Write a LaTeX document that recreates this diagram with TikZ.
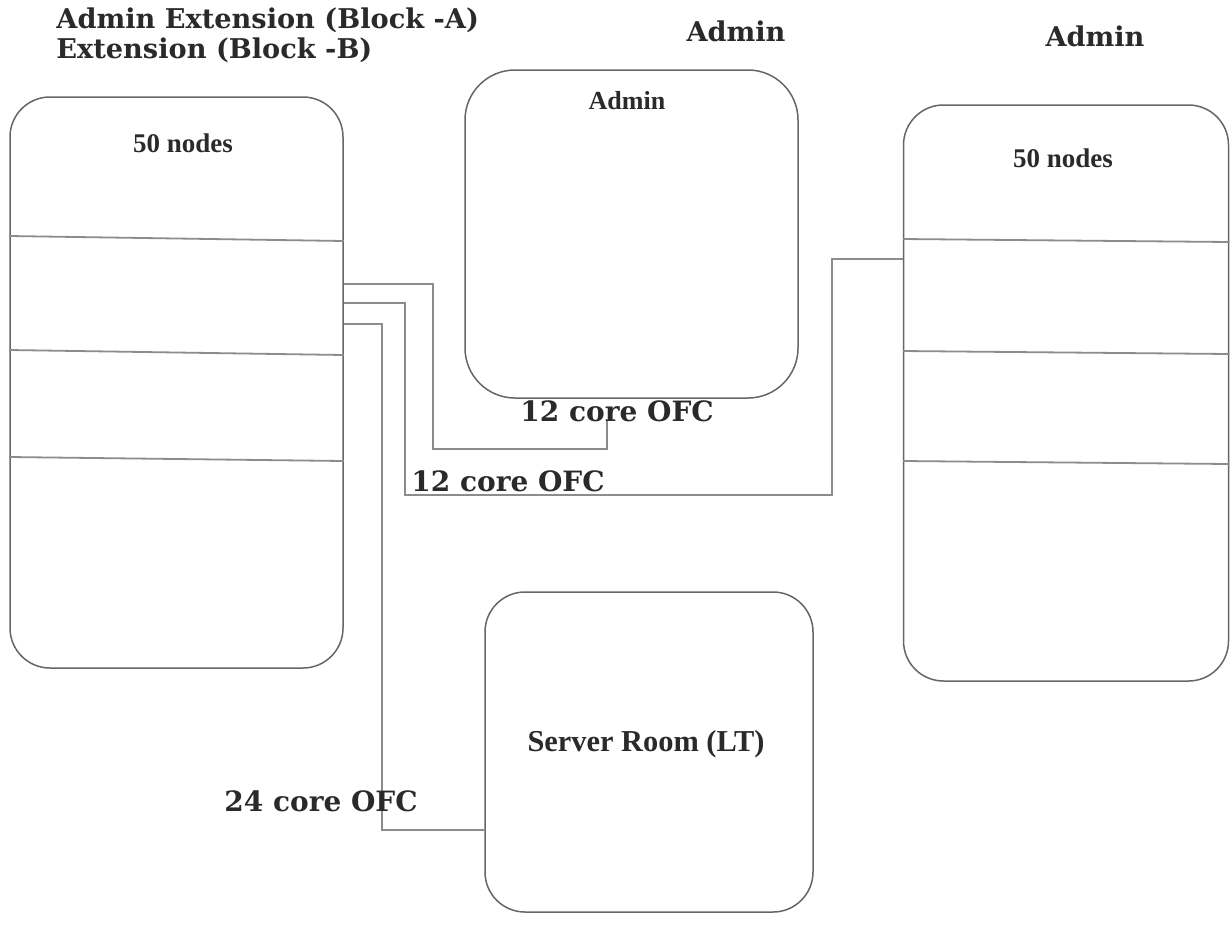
\documentclass[tikz,border=0pt]{standalone}
\usepackage{fontspec}
\setmainfont{Liberation Serif}
\newfontfamily\slab{DejaVu Serif}
\definecolor{boxgray}{HTML}{666666}
\definecolor{wiregray}{HTML}{8C8C8C}
\definecolor{textc}{HTML}{2A2A2A}
\begin{document}
\begin{tikzpicture}[x=0.5pt,y=-0.5pt,
  box/.style={draw=boxgray, line width=0.75pt, rounded corners=20pt, inner sep=0pt},
  divider/.style={draw=wiregray, line width=0.9pt},
  wire/.style={draw=wiregray, line width=1.2pt},
  times/.style={font=\bfseries\fontsize{13.5}{16}\selectfont, text=textc, inner sep=0pt},
  slabl/.style={font=\slab\bfseries\fontsize{13.6}{15}\selectfont, text=textc, inner sep=0pt},
  ofc/.style={font=\slab\bfseries\fontsize{14}{15}\selectfont, text=textc, inner sep=0pt}]
\useasboundingbox (0,0) rectangle (1230,943);
\fill[white] (0,0) rectangle (1230,943);
% boxes
\node[box, minimum width=166.5pt, minimum height=285.5pt] (L) at (176.5,382.5) {};
\node[box, rounded corners=25pt, minimum width=166.5pt, minimum height=164pt] (A) at (631.5,234) {};
\node[box, minimum width=162.5pt, minimum height=288pt] (R) at (1066,393) {};
\node[box, minimum width=164pt, minimum height=160pt] (S) at (649,752) {};
% dividers
\draw[divider] (L.west |- 0,236) -- (L.east |- 0,241);
\draw[divider] (L.west |- 0,350) -- (L.east |- 0,355);
\draw[divider] (L.west |- 0,457) -- (L.east |- 0,461);
\draw[divider] (R.west |- 0,239) -- (R.east |- 0,242);
\draw[divider] (R.west |- 0,351) -- (R.east |- 0,354);
\draw[divider] (R.west |- 0,461) -- (R.east |- 0,464);
% box texts
\node[times] (ln) at (183,143) {50 nodes};
\node[times, font=\bfseries\fontsize{13}{16}\selectfont] (an) at (627,101) {Admin};
\node[times] (rn) at (1063,158) {50 nodes};
\node[times, font=\bfseries\fontsize{15.2}{18}\selectfont] (sn) at (646,744) {Server Room (LT)};
% top labels
\node[slabl, anchor=west] (t1) at (56,20) {Admin Extension (Block -A)};
\node[slabl, anchor=west] (t2) at (56,50) {Extension (Block -B)};
\node[slabl] (t3) at (736,31) {Admin};
\node[slabl] (t4) at (1095,36) {Admin};
% connectors
\coordinate (c1end) at (607,421);
\draw[wire] (L.east |- 0,284) -- (433,284) -- (433,449) -- (607,449) -- (c1end);
\draw[wire] (L.east |- 0,303) -- (405,303) -- (405,495) -- (832,495) -- (832,259) -- (R.west |- 0,259);
\draw[wire] (L.east |- 0,324) -- (382,324) -- (382,830) -- (S.west |- 0,830);
% connector labels
\node[ofc] (o1) at (617,411) {12 core OFC};
\node[ofc] (o2) at (508,481) {12 core OFC};
\node[ofc] (o3) at (321,801) {24 core OFC};
\end{tikzpicture}
\end{document}
